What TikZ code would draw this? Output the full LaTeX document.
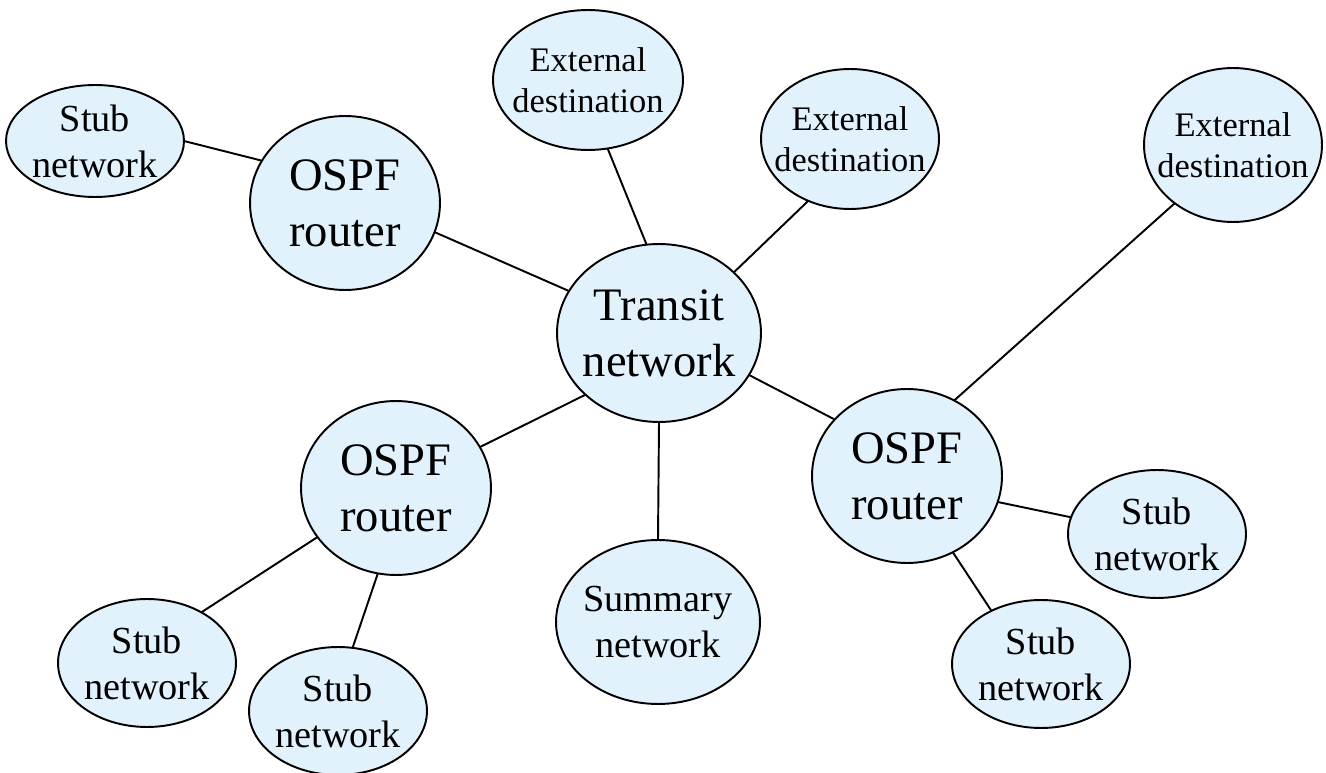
\documentclass[tikz,border=0pt]{standalone}
\usepackage{fontspec}
\setmainfont{Liberation Serif}
\usetikzlibrary{shapes.geometric}
\definecolor{nodefill}{RGB}{226,242,253}
\begin{document}
\begin{tikzpicture}[x=0.02cm,y=-0.02cm,
  ell/.style={ellipse, draw=black, line width=1.1pt, fill=nodefill, inner sep=0pt, outer sep=0pt},
  big/.style={font=\fontsize{26.5}{31.8}\selectfont, align=center, inner sep=0pt},
  mid/.style={font=\fontsize{21.8}{26.2}\selectfont, align=center, inner sep=0pt},
  sml/.style={font=\fontsize{19.6}{23.5}\selectfont, align=center, inner sep=0pt},
  link/.style={draw=black, line width=1.1pt}]
\useasboundingbox (0,0) rectangle (1326,773);
% nodes
\node[ell, minimum width=3.56cm, minimum height=2.24cm, label={[mid]center:Stub\\network}] (stubTL) at (95,141) {};
\node[ell, minimum width=3.80cm, minimum height=3.48cm, label={[big]center:OSPF\\router}] (ospfTL) at (345,203) {};
\node[ell, minimum width=3.80cm, minimum height=2.80cm, label={[sml]center:External\\destination}] (ext1) at (588,80) {};
\node[ell, minimum width=3.56cm, minimum height=2.80cm, label={[sml]center:External\\destination}] (ext2) at (850,139) {};
\node[ell, minimum width=3.56cm, minimum height=3.08cm, label={[sml]center:External\\destination}] (ext3) at (1233,145) {};
\node[ell, minimum width=4.08cm, minimum height=3.56cm, label={[big]center:Transit\\network}] (transit) at (659,333) {};
\node[ell, minimum width=3.80cm, minimum height=3.48cm, label={[big]center:OSPF\\router}] (ospfBL) at (396,488) {};
\node[ell, minimum width=3.80cm, minimum height=3.48cm, label={[big]center:OSPF\\router}] (ospfR) at (907,476) {};
\node[ell, minimum width=3.56cm, minimum height=2.56cm, label={[mid]center:Stub\\network}] (stubR) at (1157,534) {};
\node[ell, minimum width=3.56cm, minimum height=2.56cm, label={[mid]center:Stub\\network}] (stubRB) at (1041,664) {};
\node[ell, minimum width=4.08cm, minimum height=3.28cm, label={[mid]center:Summary\\network}] (summary) at (658,622) {};
\node[ell, minimum width=3.56cm, minimum height=2.56cm, label={[mid]center:Stub\\network}] (stubBL1) at (147,663) {};
\node[ell, minimum width=3.56cm, minimum height=2.56cm, label={[mid]center:Stub\\network}] (stubBL2) at (338,711) {};
% connectors
\draw[link] (stubTL.0.6) -- (ospfTL.153.7);
\draw[link] (ospfTL.-18.4) -- (transit.155.7);
\draw[link] (ext1.-74.8) -- (transit.98.6);
\draw[link] (ext2.-124.6) -- (transit.39.7);
\draw[link] (ext3.-135) -- (ospfR.58.4);
\draw[link] (transit.-140.6) -- (ospfBL.26.6);
\draw[link] (transit.-25.5) -- (ospfR.142.9);
\draw[link] (transit.-90) -- (summary.90);
\draw[link] (ospfBL.-148.2) -- (stubBL1.43.9);
\draw[link] (ospfBL.-102.8) -- (stubBL2.77.5);
\draw[link] (ospfR.-16.4) -- (stubR.169.2);
\draw[link] (ospfR.-59.4) -- (stubRB.133.3);
\end{tikzpicture}
\end{document}
